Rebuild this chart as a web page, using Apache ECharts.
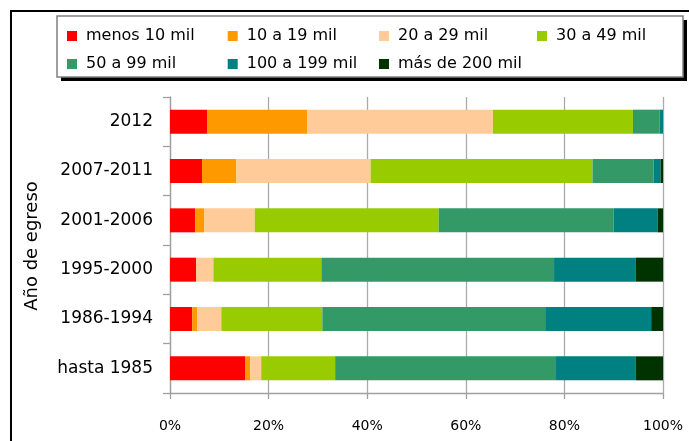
<!DOCTYPE html>
<html>
<head>
<meta charset="utf-8">
<script src="https://cdn.jsdelivr.net/npm/echarts@6/dist/echarts.min.js"></script>
<style>html,body{margin:0;padding:0;background:#fff;}#c{width:689px;height:441px;}</style>
</head>
<body>
<div id="c"></div>
<script>
var categories = ['2012', '2007-2011', '2001-2006', '1995-2000', '1986-1994', 'hasta 1985'];
var seriesNames = ['menos 10 mil', '10 a 19 mil', '20 a 29 mil', '30 a 49 mil', '50 a 99 mil', '100 a 199 mil', 'más de 200 mil'];
var menos10 = [7.6, 6.5, 5.1, 5.3, 4.5, 15.3];
var de10a19 = [20.2, 6.9, 1.8, 0, 1.0, 1.0];
var de20a29 = [37.7, 27.3, 10.3, 3.5, 4.9, 2.2];
var de30a49 = [28.4, 45.0, 37.3, 21.9, 20.5, 15.0];
var de50a99 = [5.4, 12.4, 35.5, 47.2, 45.2, 44.8];
var de100a199 = [0.7, 1.4, 8.9, 16.6, 21.5, 16.2];
var mas200 = [0, 0.5, 1.1, 5.5, 2.4, 5.5];
var xTicks = [0, 20, 40, 60, 80, 100];
var colors = ['#ff0000', '#ff9900', '#ffcc99', '#99cc00', '#339966', '#008080', '#003300'];
var values = [menos10, de10a19, de20a29, de30a49, de50a99, de100a199, mas200];

var FONT = 'DejaVu Sans';
var chart = echarts.init(document.getElementById('c'), null, {renderer: 'canvas'});

function legendCol(left, names) {
  return {
    orient: 'vertical', left: left, top: 21, itemGap: 8,
    icon: 'rect', itemWidth: 10, itemHeight: 10,
    data: names, selectedMode: false,
    textStyle: {fontFamily: FONT, fontSize: 16, color: '#000', lineHeight: 20, padding: [0, 0, 0, 4]}
  };
}

var option = {
  animation: false,
  backgroundColor: '#fff',
  color: colors,
  graphic: [
    {type: 'rect', shape: {x: 11, y: 11, width: 720, height: 460}, style: {fill: 'none', stroke: '#000', lineWidth: 2}, z: 0},
    {type: 'rect', shape: {x: 61, y: 20, width: 626, height: 61}, style: {fill: '#000', stroke: null}, z: 1},
    {type: 'rect', shape: {x: 57, y: 16, width: 626, height: 61}, style: {fill: '#fff', stroke: '#808080', lineWidth: 1.5}, z: 2},
    {type: 'text', x: 32, y: 246, rotation: Math.PI / 2, style: {text: 'Año de egreso', fontFamily: FONT, fontSize: 18, fill: '#000', textAlign: 'center', textVerticalAlign: 'middle'}, z: 5}
  ],
  legend: [
    legendCol(62, [seriesNames[0], seriesNames[4]]),
    legendCol(222.7, [seriesNames[1], seriesNames[5]]),
    legendCol(374, [seriesNames[2], seriesNames[6]]),
    legendCol(532, [seriesNames[3]])
  ],
  grid: {left: 170, right: 26, top: 97, bottom: 48, containLabel: false},
  xAxis: {
    type: 'value', min: 0, max: 100, interval: 20,
    axisLine: {show: true, lineStyle: {color: '#a0a0a0', width: 1.3}},
    axisTick: {show: true, length: 6, lineStyle: {color: '#a0a0a0', width: 1.3}},
    splitLine: {show: true, lineStyle: {color: '#aaaaaa', width: 1.3}},
    axisLabel: {formatter: '{value}%', fontFamily: FONT, fontSize: 14, color: '#000', margin: 26}
  },
  yAxis: {
    type: 'category', data: categories, inverse: true,
    axisLine: {show: true, lineStyle: {color: '#a0a0a0', width: 1.3}},
    axisTick: {show: true, length: 7, lineStyle: {color: '#a0a0a0', width: 1.3}},
    axisLabel: {fontFamily: FONT, fontSize: 17, color: '#000', margin: 17}
  },
  series: seriesNames.map(function (n, i) {
    return {name: n, type: 'bar', stack: 'total', barWidth: 24, data: values[i], itemStyle: {color: colors[i]}};
  })
};
chart.setOption(option);
</script>
</body>
</html>
